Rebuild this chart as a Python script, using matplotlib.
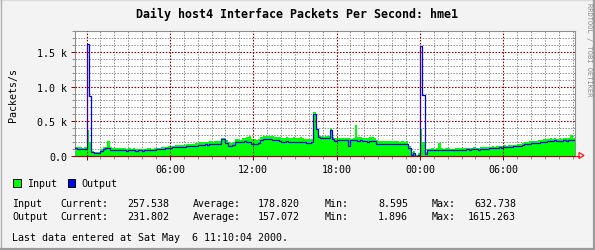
import numpy as np
import matplotlib
matplotlib.use("Agg")
import matplotlib.pyplot as plt
from matplotlib.patches import Rectangle, Polygon
from matplotlib.lines import Line2D
from matplotlib.ticker import MultipleLocator, FixedLocator

# ---------------- data ----------------
title = "Daily host4 Interface Packets Per Second: hme1"
ylabel = "Packets/s"
start_hour = -50 / 60      # 23:10 on the previous day
step_hours = 10 / 60       # 10-minute samples

input_pps = [
    135, 125, 130, 120, 125, 380, 200, 75, 60, 55, 60, 95,
    125, 130, 215, 125, 120, 115, 110, 110, 115, 110, 108, 112,
    105, 110, 100, 105, 108, 100, 105, 110, 112, 108, 115, 118,
    120, 125, 130, 135, 140, 145, 150, 155, 160, 158, 160, 165,
    170, 175, 180, 175, 185, 190, 195, 200, 205, 200, 210, 205,
    215, 210, 220, 260, 255, 225, 195, 190, 205, 240, 245, 235,
    260, 265, 270, 285, 245, 240, 235, 245, 280, 290, 285, 295,
    290, 285, 275, 280, 270, 265, 260, 270, 265, 260, 268, 262,
    262, 268, 260, 250, 240, 238, 245, 632, 400, 290, 285, 280,
    290, 285, 410, 270, 255, 265, 260, 258, 262, 255, 260, 250,
    265, 440, 270, 268, 260, 265, 262, 268, 270, 265, 225, 220,
    220, 215, 218, 212, 215, 210, 215, 212, 208, 212, 205, 210,
    150, 60, 70, 15, 50, 385, 200, 55, 100, 105, 110, 108,
    112, 185, 110, 108, 112, 110, 105, 108, 110, 112, 115, 112,
    115, 120, 118, 122, 125, 120, 118, 125, 128, 130, 125, 132,
    140, 135, 145, 150, 148, 155, 150, 160, 158, 165, 162, 170,
    175, 185, 195, 205, 210, 215, 220, 218, 225, 230, 240, 245,
    250, 255, 245, 260, 250, 255, 248, 260, 255, 265, 305, 258,
]
output_pps = [
    110, 105, 108, 100, 105, 1615, 870, 55, 45, 40, 45, 70,
    95, 120, 110, 90, 85, 80, 80, 85, 82, 80, 78, 82,
    82, 85, 78, 80, 85, 78, 80, 85, 88, 85, 90, 95,
    95, 100, 105, 110, 115, 120, 125, 128, 130, 128, 130, 135,
    140, 145, 150, 145, 150, 155, 160, 165, 170, 165, 170, 168,
    175, 170, 180, 250, 240, 185, 150, 145, 165, 195, 200, 195,
    205, 210, 205, 200, 180, 175, 170, 190, 235, 245, 240, 245,
    240, 235, 230, 225, 215, 205, 200, 210, 205, 200, 205, 200,
    200, 205, 198, 195, 190, 188, 195, 600, 395, 270, 262, 255,
    262, 255, 370, 240, 220, 235, 230, 225, 232, 228, 150, 225,
    225, 230, 222, 228, 215, 210, 200, 215, 220, 215, 180, 178,
    178, 175, 180, 172, 175, 170, 175, 172, 168, 175, 170, 172,
    118, 15, 40, 5, 15, 1590, 875, 30, 85, 80, 85, 82,
    88, 90, 86, 85, 88, 86, 84, 86, 88, 90, 92, 88,
    90, 95, 92, 95, 100, 95, 92, 100, 105, 108, 100, 110,
    115, 112, 120, 125, 122, 130, 125, 135, 130, 140, 138, 145,
    150, 160, 170, 175, 180, 185, 190, 188, 192, 195, 200, 205,
    215, 220, 210, 225, 215, 220, 210, 225, 218, 230, 232, 232,
]
x_tick_labels = ["06:00", "12:00", "18:00", "00:00", "06:00"]
y_ticks = [0, 500, 1000, 1500]
y_tick_labels = ["0.0", "0.5 k", "1.0 k", "1.5 k"]
legend_names = ["Input", "Output"]
stats = {
    "Input": ["257.538", "178.820", "8.595", "632.738"],
    "Output": ["231.802", "157.072", "1.896", "1615.263"],
}
footer = "Last data entered at Sat May  6 11:10:04 2000."
credit = "RRDTOOL / TOBI OETIKER"

# ---------------- style ----------------
W, H = 595, 251
BG = "#F3F3F3"
GREEN = "#00FF00"
BLUE = "#0000FF"
MAJOR = "#8B0000"
MINOR = "#909090"
MONO = "DejaVu Sans Mono"
FS = 7.2

def fx(px):
    return px / W

def fy(py):
    return 1 - py / H

fig = plt.figure(figsize=(W / 100, H / 100), dpi=100, facecolor=BG)

x0, x1 = 75, 575
ytop, ybot = 32, 157
ax = fig.add_axes([fx(x0), fy(ybot), (x1 - x0) / W, (ybot - ytop) / H])
ax.set_facecolor("white")

n = len(input_pps)
edges = start_hour + np.arange(n + 1) * step_hours
inp = np.append(input_pps, input_pps[-1])
out = np.append(output_pps, output_pps[-1])

ax.fill_between(edges, inp, step="post", color=GREEN, lw=0, zorder=2)
ax.step(edges, out, where="post", color=BLUE, lw=0.9, zorder=4)

ax.set_xlim(edges[0], edges[-1])
ax.set_ylim(0, 1800)

ax.xaxis.set_major_locator(FixedLocator([0, 6, 12, 18, 24, 30]))
ax.set_xticklabels(["", *x_tick_labels])
ax.xaxis.set_minor_locator(MultipleLocator(1))
ax.set_yticks(y_ticks)
ax.set_yticklabels(y_tick_labels)
ax.yaxis.set_minor_locator(MultipleLocator(100))

dots = (0, (1.4, 1.4))
ax.set_axisbelow(True)
ax.grid(which="minor", color=MINOR, lw=0.72, linestyle=dots)
for h in [0, 6, 12, 18, 24, 30]:
    ax.axvline(h, color=MAJOR, lw=0.8, linestyle=dots, zorder=5)
for v in [500, 1000, 1500]:
    ax.axhline(v, color=MAJOR, lw=0.8, linestyle=dots, zorder=5)

ax.tick_params(which="major", direction="out", length=3, width=0.72,
               color=MAJOR, labelsize=FS, pad=2.5)
ax.tick_params(which="minor", direction="out", length=2, width=0.72,
               color=MINOR)
for lab in ax.get_xticklabels() + ax.get_yticklabels():
    lab.set_family(MONO)

for s in ["left", "top", "right"]:
    ax.spines[s].set_color(MINOR)
    ax.spines[s].set_linewidth(0.8)
ax.spines["bottom"].set_color("#B00000")
ax.spines["bottom"].set_linewidth(0.8)
ax.spines["bottom"].set_zorder(6)

# arrow at the end of x axis
fig.add_artist(Line2D([fx(575), fx(579)], [fy(156.5), fy(156.5)],
                      color="#FF0000", lw=0.8))
fig.add_artist(Polygon([(fx(579), fy(153.5)), (fx(584), fy(156.5)),
                        (fx(579), fy(159.5))], closed=True, fill=False,
                       edgecolor="#FF0000", lw=0.8))

# title, axis label, credit
fig.text(0.5, fy(14.5), title, ha="center", va="center",
         family=MONO, fontsize=8.4, fontweight="bold")
fig.text(fx(13.5), fy(95), ylabel, ha="center", va="center",
         rotation=90, family=MONO, fontsize=FS)
fig.text(fx(588.5), fy(50), credit, ha="center", va="center",
         rotation=270, family=MONO, fontsize=5.0, color="#8C8C8C")

# legend
for name, color, bx, tx in [(legend_names[0], GREEN, 13, 27),
                            (legend_names[1], BLUE, 67.5, 81)]:
    fig.add_artist(Rectangle((fx(bx), fy(187.5)), 7.5 / W, 7.5 / H,
                             facecolor=color, edgecolor="black", lw=0.7,
                             transform=fig.transFigure))
    fig.text(fx(tx), fy(183.8), name, ha="left", va="center",
             family=MONO, fontsize=FS)

# statistics rows
for row_y, name in [(204.3, "Input"), (217.0, "Output")]:
    cur, avg, mn, mx = stats[name]
    yy = fy(row_y)
    fig.text(fx(12), yy, name, ha="left", va="center", family=MONO, fontsize=FS)
    fig.text(fx(60), yy, "Current:", ha="left", va="center", family=MONO, fontsize=FS)
    fig.text(fx(169), yy, cur, ha="right", va="center", family=MONO, fontsize=FS)
    fig.text(fx(193), yy, "Average:", ha="left", va="center", family=MONO, fontsize=FS)
    fig.text(fx(300), yy, avg, ha="right", va="center", family=MONO, fontsize=FS)
    fig.text(fx(325), yy, "Min:", ha="left", va="center", family=MONO, fontsize=FS)
    fig.text(fx(408), yy, mn, ha="right", va="center", family=MONO, fontsize=FS)
    fig.text(fx(432), yy, "Max:", ha="left", va="center", family=MONO, fontsize=FS)
    fig.text(fx(516), yy, mx, ha="right", va="center", family=MONO, fontsize=FS)

fig.text(fx(12), fy(237.7), footer, ha="left", va="center",
         family=MONO, fontsize=FS)

# 3D border
fig.add_artist(Line2D([0, 1], [fy(0.5), fy(0.5)], color="#DCDCDC", lw=1))
fig.add_artist(Line2D([fx(0.5), fx(0.5)], [0, 1], color="#B0B0B0", lw=1))
fig.add_artist(Line2D([0, 1], [fy(250), fy(250)], color="#9A9A9A", lw=1.6))
fig.add_artist(Line2D([fx(594), fx(594)], [0, 1], color="#9A9A9A", lw=1.6))

fig.savefig("out.png", dpi=100, facecolor=BG)
